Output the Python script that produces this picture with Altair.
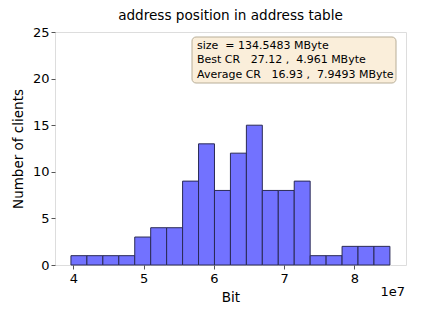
import altair as alt
import pandas as pd

# Histogram bin edges (in bits) and counts
bin_edges = [3.967e7, 4.194e7, 4.421e7, 4.648e7, 4.875e7, 5.102e7, 5.329e7,
             5.556e7, 5.783e7, 6.010e7, 6.237e7, 6.464e7, 6.691e7, 6.918e7,
             7.145e7, 7.372e7, 7.599e7, 7.826e7, 8.053e7, 8.280e7, 8.507e7]
counts = [1, 1, 1, 1, 3, 4, 4, 9, 13, 8, 12, 15, 8, 8, 9, 1, 1, 2, 2, 2]

x_ticks = [4e7, 5e7, 6e7, 7e7, 8e7]
y_ticks = [0, 5, 10, 15, 20, 25]

info_lines = [
    "size  = 134.5483 MByte",
    "Best CR   27.12 ,  4.961 MByte",
    "Average CR   16.93 ,  7.9493 MByte",
]

NB = "\u00a0"
info_lines = [s.replace(" ", NB) for s in info_lines]

df = pd.DataFrame({
    "start": bin_edges[:-1],
    "end": bin_edges[1:],
    "count": counts,
})

FONT = "DejaVu Sans"
W, H = 351, 233

xscale = alt.Scale(domain=[3.74e7, 8.736e7], nice=False, zero=False)
yscale = alt.Scale(domain=[0, 25], nice=False)

bars = alt.Chart(df).mark_rect(
    fill="#7272FF", stroke="#2a2a55", strokeWidth=1
).encode(
    x=alt.X("start:Q", scale=xscale, title="Bit",
            axis=alt.Axis(values=x_ticks, labelExpr="datum.value / 1e7",
                          grid=False, tickSize=4, domain=False,
                          labelFontSize=13, titleFontSize=13.5,
                          labelFont=FONT, titleFont=FONT,
                          labelColor="#000", titleColor="#000",
                          tickColor="#555", titleFontWeight="normal",
                          labelPadding=3, titlePadding=5)),
    x2="end:Q",
    y=alt.Y("count:Q", scale=yscale, title="Number of clients",
            axis=alt.Axis(values=y_ticks, grid=False, tickSize=4, domain=False,
                          labelFontSize=13, titleFontSize=13.5,
                          labelFont=FONT, titleFont=FONT,
                          labelColor="#000", titleColor="#000",
                          tickColor="#555", titleFontWeight="normal",
                          labelPadding=2, titlePadding=7)),
    y2=alt.datum(0),
)

one = pd.DataFrame({"a": [0]})

box = alt.Chart(one).mark_rect(
    fill="#FAEEDA", stroke="#b8ae98", strokeWidth=1, cornerRadius=4
).encode(
    x=alt.value(137), x2=alt.value(341), y=alt.value(5), y2=alt.value(51)
)

line_y = [13.5, 28.2, 42.9]
texts = [
    alt.Chart(pd.DataFrame({"t": [s]})).mark_text(
        align="left", baseline="middle", font=FONT, fontSize=11, color="#000"
    ).encode(x=alt.value(142), y=alt.value(yy), text="t:N")
    for s, yy in zip(info_lines, line_y)
]

exp_label = alt.Chart(pd.DataFrame({"t": ["1e7"]})).mark_text(
    align="right", baseline="middle", font=FONT, fontSize=13, color="#000"
).encode(x=alt.value(350), y=alt.value(260), text="t:N")

chart = alt.layer(bars, box, *texts, exp_label).properties(
    width=W, height=H,
    autosize=alt.AutoSizeParams(type="none"),
    padding={"left": 55, "top": 32, "right": 17, "bottom": 52},
    title=alt.Title("address position in address table", font=FONT,
                    fontSize=13.6, fontWeight="normal", color="#000", offset=3),
).configure_view(
    stroke="#555", strokeWidth=1
).configure(background="white")

chart.save("out.html", embed_options={"renderer": "svg", "actions": False})
